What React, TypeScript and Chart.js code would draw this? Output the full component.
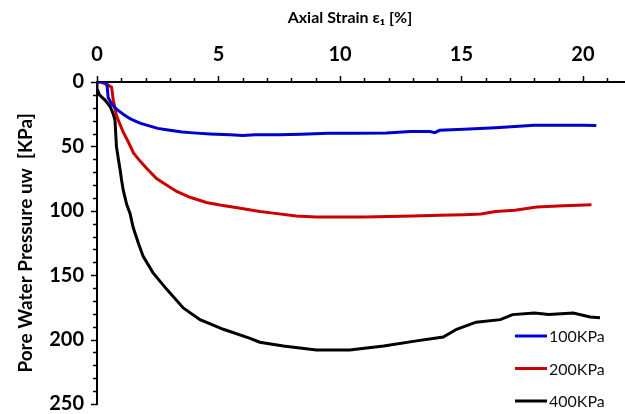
import React, { useEffect, useRef } from "react";
import { Chart, registerables } from "chart.js";

Chart.register(...registerables);

const seriesLabels = ["100KPa", "200KPa", "400KPa"];
const seriesColors = ["#0000CC", "#CC0000", "#000000"];

const x100 = [0, 0.4, 0.46, 0.6, 0.74, 0.87, 1.08, 1.36, 1.6, 1.77, 2.04, 2.5, 2.86, 3.5, 3.96, 4.65, 5.47, 6.0, 6.5, 7.5, 8.4, 9.5, 10.5, 11.9, 12.9, 13.7, 13.9, 14.1, 15.1, 16.4, 17.2, 18.0, 19.0, 20.0, 20.55];
const y100 = [0, 0, 12, 17, 20, 22, 25, 28.5, 30.5, 32, 33.5, 36, 37, 38.8, 39.5, 40.3, 41, 41.5, 41, 41, 40.5, 39.8, 39.8, 39.5, 38.5, 38.5, 39.3, 37.5, 36.7, 35.5, 34.6, 33.5, 33.5, 33.5, 33.8];

const x200 = [0, 0.15, 0.45, 0.6, 0.67, 0.8, 0.95, 1.08, 1.3, 1.5, 1.8, 2.04, 2.45, 2.86, 3.28, 3.83, 4.5, 5.06, 5.9, 6.7, 7.25, 8.2, 9.0, 10, 11, 12, 13, 14.1, 15.1, 15.8, 16.4, 17.2, 18.1, 19.2, 20.35];
const y200 = [0, 0, 2.5, 4, 14, 26, 33, 39, 47, 55, 62, 67, 75, 80, 85, 89.5, 93.5, 95.5, 98, 100.5, 101.8, 104, 104.8, 104.9, 104.9, 104.5, 104, 103.5, 103, 102.5, 100.5, 99.5, 97, 96, 95.3];

const x400 = [0, 0, 0.1, 0.33, 0.54, 0.67, 0.74, 0.8, 0.88, 0.95, 1.01, 1.08, 1.22, 1.36, 1.49, 1.7, 1.9, 2.3, 2.87, 3.55, 4.24, 5.2, 6.3, 6.7, 7.67, 9.03, 10.4, 11.8, 13.15, 14.25, 14.8, 15.6, 16.6, 17.1, 18.0, 18.6, 19.6, 20.3, 20.7];
const y400 = [0, 5, 10, 14, 19, 25, 29.5, 50, 60, 68, 76, 84, 95, 102, 113, 125, 135.4, 148, 161, 175.4, 184.5, 192, 199, 202, 205, 208, 208, 205, 201, 198, 192, 186.5, 184.5, 180.6, 179.3, 180.6, 179.3, 182.4, 183];

const xTickValues = [0, 1, 2, 3, 4, 5, 6, 7, 8, 9, 10, 11, 12, 13, 14, 15, 16, 17, 18, 19, 20, 21];
const yTickValues = [0, 10, 20, 30, 40, 50, 60, 70, 80, 90, 100, 110, 120, 130, 140, 150, 160, 170, 180, 190, 200, 210, 220, 230, 240, 250];
const xLabelStep = 5;
const yLabelStep = 50;

const xTitle = "Axial Strain \u03B5\u2081 [%]";
const yTitle = "Pore Water Pressure uw  [KPa]";

const FONT = "Lato";

function toPoints(xs: number[], ys: number[]) {
  return xs.map((x, i) => ({ x, y: ys[i] }));
}

const tickMarksPlugin = {
  id: "tickMarks",
  afterDraw(chart: any) {
    const ctx = chart.ctx;
    const xs = chart.scales.x;
    const ys = chart.scales.y;
    const area = chart.chartArea;
    ctx.save();
    ctx.strokeStyle = "#000";
    ctx.lineWidth = 1.5;
    xTickValues.forEach((v) => {
      const px = Math.round(xs.getPixelForValue(v)) + 0.5;
      const len = v % xLabelStep === 0 ? 6 : 4;
      ctx.beginPath();
      ctx.moveTo(px, area.top);
      ctx.lineTo(px, area.top - len);
      ctx.stroke();
    });
    yTickValues.forEach((v) => {
      const py = Math.round(ys.getPixelForValue(v)) + 0.5;
      const len = v % yLabelStep === 0 ? 6 : 4;
      ctx.beginPath();
      ctx.moveTo(area.left, py);
      ctx.lineTo(area.left - len, py);
      ctx.stroke();
    });
    // top axis title
    ctx.fillStyle = "#000";
    ctx.font = `bold 16px ${FONT}`;
    ctx.textAlign = "center";
    ctx.textBaseline = "middle";
    ctx.fillText(xTitle, area.left + (area.right - area.left) * 0.479, area.top - 64);
    ctx.restore();
  },
};

const legendPlugin = {
  id: "customLegend",
  afterDraw(chart: any) {
    const ctx = chart.ctx;
    const area = chart.chartArea;
    const n = chart.data.datasets.length;
    const rowH = 32.5;
    ctx.save();
    ctx.font = `16px ${FONT}`;
    ctx.textBaseline = "middle";
    ctx.textAlign = "left";
    chart.data.datasets.forEach((ds: any, i: number) => {
      const y = area.bottom - 3 - (n - 1 - i) * rowH;
      const x0 = area.right - 110;
      ctx.strokeStyle = ds.borderColor;
      ctx.lineWidth = 3;
      ctx.beginPath();
      ctx.moveTo(x0, y);
      ctx.lineTo(x0 + 32, y);
      ctx.stroke();
      ctx.fillStyle = "#111";
      ctx.fillText(ds.label, x0 + 34, y + 1);
    });
    ctx.restore();
  },
};

export default function App() {
  const ref = useRef<HTMLCanvasElement | null>(null);
  useEffect(() => {
    if (!ref.current) return;
    const xs = [x100, x200, x400];
    const ys = [y100, y200, y400];
    const chart = new Chart(ref.current, {
      type: "scatter",
      data: {
        datasets: seriesLabels.map((label, i) => ({
          label,
          data: toPoints(xs[i], ys[i]),
          showLine: true,
          borderColor: seriesColors[i],
          backgroundColor: seriesColors[i],
          borderWidth: 3,
          pointRadius: 0,
          tension: 0,
        })),
      },
      options: {
        animation: false,
        responsive: false,
        layout: { padding: { top: 0, left: 0, right: 0, bottom: 10 } },
        plugins: { legend: { display: false }, tooltip: { enabled: false } },
        scales: {
          x: {
            type: "linear",
            position: "top",
            min: 0,
            max: 21.73,
            afterBuildTicks: (s: any) => {
              s.ticks = xTickValues.map((v) => ({ value: v }));
            },
            afterFit: (s: any) => {
              s.height = 82;
            },
            ticks: {
              autoSkip: false,
              maxRotation: 0,
              padding: 0,
              color: "#000",
              font: { family: FONT, size: 20, weight: "bold", lineHeight: 1 },
              callback: (v: any) => (Number(v) % xLabelStep === 0 ? String(v) : ""),
            },
            grid: { drawOnChartArea: false, drawTicks: true, tickLength: 17, tickColor: "rgba(0,0,0,0)" },
            border: { display: true, color: "#000", width: 2 },
            title: { display: false },
          },
          y: {
            type: "linear",
            reverse: true,
            min: 0,
            max: 250,
            afterBuildTicks: (s: any) => {
              s.ticks = yTickValues.map((v) => ({ value: v }));
            },
            afterFit: (s: any) => {
              s.width = 97;
            },
            ticks: {
              autoSkip: false,
              padding: 0,
              color: "#000",
              font: { family: FONT, size: 20, weight: "bold", lineHeight: 1 },
              callback: (v: any) => (Number(v) % yLabelStep === 0 ? String(v) : ""),
            },
            grid: { drawOnChartArea: false, drawTicks: true, tickLength: 13, tickColor: "rgba(0,0,0,0)" },
            border: { display: true, color: "#000", width: 2 },
            title: {
              display: true,
              text: yTitle,
              color: "#000",
              font: { family: FONT, size: 19, weight: "bold" },
              padding: { top: 14, bottom: 0 },
            },
          },
        },
      },
      plugins: [tickMarksPlugin, legendPlugin],
    } as any);
    return () => chart.destroy();
  }, []);
  return (
    <div style={{ position: "absolute", left: 0, top: 0, width: 625, height: 414, background: "#fff" }}>
      <canvas ref={ref} width={625} height={414} />
    </div>
  );
}
